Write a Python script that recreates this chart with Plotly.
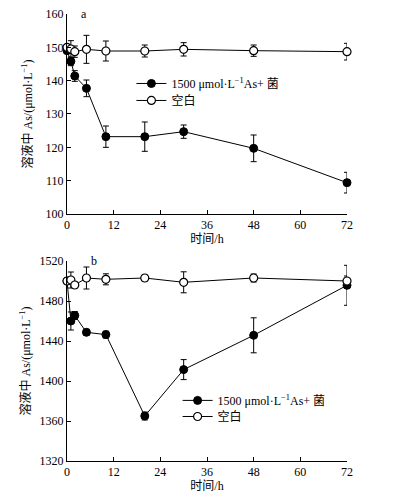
import plotly.graph_objects as go

time_h = [0, 1, 2, 5, 10, 20, 30, 48, 72]

# Panel a
a_bact = [149.0, 145.8, 141.4, 137.7, 123.2, 123.2, 124.7, 119.7, 109.4]
a_bact_err = [0, 1.3, 1.6, 2.5, 3.2, 4.4, 2.0, 4.0, 3.1]
a_blank = [150.0, 149.5, 148.7, 149.4, 148.9, 148.9, 149.4, 149.0, 148.7]
a_blank_err = [0, 2.5, 1.7, 4.2, 3.0, 1.8, 2.0, 1.7, 2.5]

# Panel b
b_bact = [1500, 1460, 1465.5, 1448.7, 1446.4, 1365, 1411.4, 1445.7, 1495.7]
b_bact_err = [0, 9, 4, 3, 3.5, 4, 10, 17.5, 20]
b_blank = [1500, 1501, 1496, 1503, 1501.7, 1503, 1498.7, 1503, 1500]
b_blank_err = [0, 8, 3, 11, 5.5, 3, 10.5, 4, 5]

x_ticks = [0, 12, 24, 36, 48, 60, 72]
name_bact = "1500 μmol·L<sup>−1</sup>As+ 菌"
name_blank = "空白"
y_title = "溶液中 As/(μmol·L<sup>−1</sup>)"
x_title = "时间/h"

FONT = "Liberation Serif, Noto Sans CJK SC, serif"

fig = go.Figure()

def add_pair(xa, ya, bact, berr, blank, kerr, leg_b, leg_k):
    fig.add_trace(go.Scatter(
        x=time_h, y=bact, xaxis=xa, yaxis=ya, name=name_bact, legend=leg_b,
        mode="lines+markers", cliponaxis=False,
        line=dict(color="black", width=1),
        marker=dict(symbol="circle", size=8, color="black", line=dict(color="black", width=1)),
        error_y=dict(type="data", array=berr, color="black", thickness=1, width=3),
    ))
    fig.add_trace(go.Scatter(
        x=time_h, y=blank, xaxis=xa, yaxis=ya, name=name_blank, legend=leg_k,
        mode="lines+markers", cliponaxis=False,
        line=dict(color="black", width=1),
        marker=dict(symbol="circle", size=8, color="white", line=dict(color="black", width=1.2)),
        error_y=dict(type="data", array=kerr, color="black", thickness=1, width=3),
    ))

add_pair("x", "y", a_bact, a_bact_err, a_blank, a_blank_err, "legend", "legend3")
add_pair("x2", "y2", b_bact, b_bact_err, b_blank, b_blank_err, "legend2", "legend4")

axis_common = dict(
    showline=True, linecolor="black", linewidth=1, ticks="inside", ticklen=4,
    tickcolor="black", tickwidth=1, showgrid=False, zeroline=False,
    tickfont=dict(family=FONT, size=12, color="black"),
    mirror=False, automargin=False,
)

top_dom = [0.5526, 1.0]
bot_dom = [0.0, 0.4474]

def leg(x, y):
    return dict(x=x, y=y, xref="paper", yref="paper", xanchor="left", yanchor="top",
                bgcolor="rgba(0,0,0,0)", font=dict(family=FONT, size=12),
                itemwidth=30, tracegroupgap=0)

fig.update_layout(
    width=396, height=504,
    margin=dict(l=67, r=49, t=14, b=43, autoexpand=False),
    paper_bgcolor="white", plot_bgcolor="white",
    font=dict(family=FONT, size=12, color="black"),
    xaxis=dict(domain=[0, 1], anchor="y", range=[0, 72], tickvals=x_ticks,
               title=dict(text=x_title, font=dict(family=FONT, size=12), standoff=2),
               **axis_common),
    yaxis=dict(domain=top_dom, anchor="x", range=[100, 160], dtick=10,
               title=dict(text=y_title, font=dict(family=FONT, size=12), standoff=10),
               **axis_common),
    xaxis2=dict(domain=[0, 1], anchor="y2", range=[0, 72], tickvals=x_ticks,
                title=dict(text=x_title, font=dict(family=FONT, size=12), standoff=2),
                **axis_common),
    yaxis2=dict(domain=bot_dom, anchor="x2", range=[1320, 1520], dtick=40,
                title=dict(text=y_title, font=dict(family=FONT, size=12), standoff=6),
                **axis_common),
    legend=leg(0.23, 0.877),
    legend3=leg(0.23, 0.839),
    legend2=leg(0.395, 0.168),
    legend4=leg(0.395, 0.132),
    showlegend=True,
)

fig.add_annotation(x=3, y=160, xref="x", yref="y", text="a", showarrow=False,
                   xanchor="left", yanchor="middle", font=dict(family=FONT, size=12))
fig.add_annotation(x=5.7, y=1520, xref="x2", yref="y2", text="b", showarrow=False,
                   xanchor="left", yanchor="middle", font=dict(family=FONT, size=12))

fig.write_html("out.html", config={"displayModeBar": False},
               post_script="document.body.style.margin='0';")
